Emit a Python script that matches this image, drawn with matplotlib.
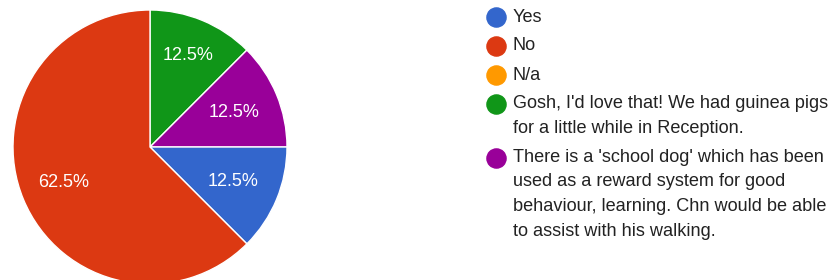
import numpy as np
import matplotlib
import matplotlib.pyplot as plt

matplotlib.use("Agg")
plt.rcParams["font.family"] = ["Liberation Sans", "DejaVu Sans"]

# respostas (ordem da legenda)
labels = ["Yes", "No", "N/a",
          "Gosh, I'd love that! We had guinea pigs\nfor a little while in Reception.",
          "There is a 'school dog' which has been\nused as a reward system for good\n"
          "behaviour, learning. Chn would be able\nto assist with his walking."]
counts = [1, 5, 0, 1, 1]
colors = ["#3366cc", "#dc3912", "#ff9900", "#109618", "#990099"]

# ordem em que as fatias aparecem (sentido horario a partir do topo)
pie_order = [3, 4, 0, 1]

fig = plt.figure(figsize=(8.35, 2.8), dpi=100)
ax = fig.add_axes([0, 0, 1, 1])

cx, cy, R = 150, 133, 137
wedges, _, autotexts = ax.pie(
    [counts[i] for i in pie_order],
    colors=[colors[i] for i in pie_order],
    startangle=90, counterclock=False,
    center=(cx, cy), radius=R,
    autopct=lambda p: f"{p:.1f}%", pctdistance=0.67,
    wedgeprops=dict(edgecolor="white", linewidth=1),
    textprops=dict(color="white", fontsize=13))

# distancia dos rotulos ao centro (ajuste fino)
dist = [0.72, 0.665, 0.655, 0.685]
for w, t, d in zip(wedges, autotexts, dist):
    ang = np.deg2rad((w.theta1 + w.theta2) / 2)
    t.set_position((cx + d * R * np.cos(ang), cy + d * R * np.sin(ang)))

ax.set_xlim(0, 835)
ax.set_ylim(0, 280)
ax.set_aspect("equal")
ax.axis("off")

# legenda manual
y = 280 - 17
for lab, c in zip(labels, colors):
    ax.scatter([496], [y], s=190, color=c, zorder=3, clip_on=False)
    lines = lab.split("\n")
    for k, line in enumerate(lines):
        ax.text(513, y - k * 24.5, line, fontsize=13.1, color="#222222",
                va="center", ha="left")
    y -= 29 + (len(lines) - 1) * 24.5

fig.savefig("out.png", dpi=100)
